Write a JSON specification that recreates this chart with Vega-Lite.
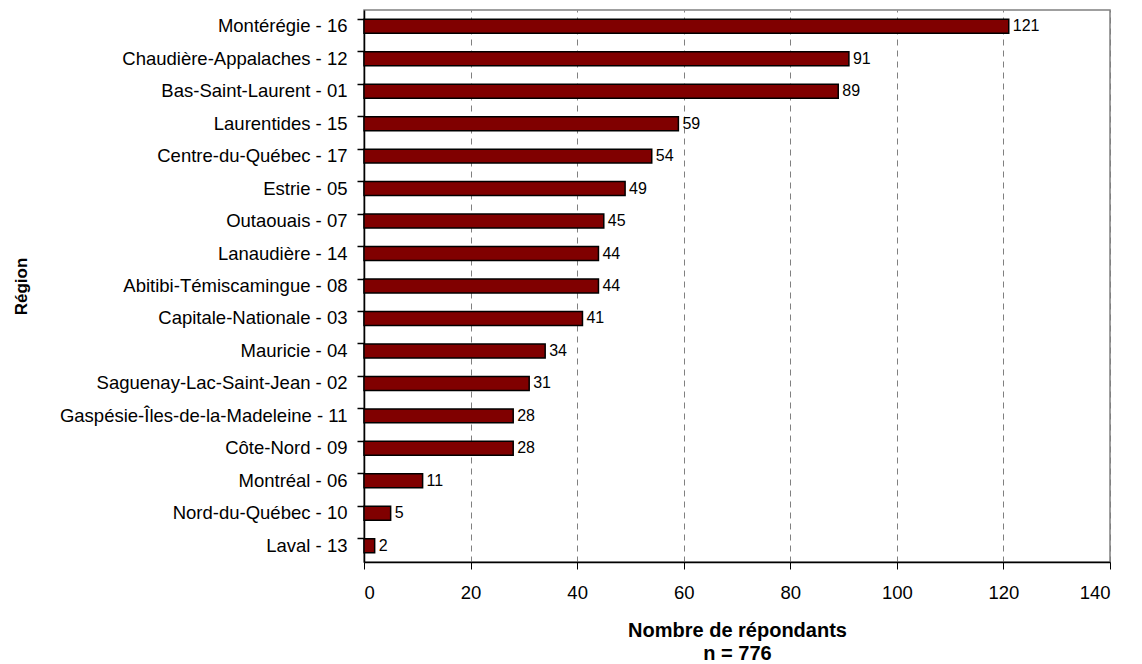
{
  "$schema": "https://vega.github.io/schema/vega-lite/v6.json",
  "autosize": {"type": "none"},
  "width": 746,
  "height": 552,
  "padding": {"left": 364, "top": 10, "right": 32, "bottom": 102},
  "background": "white",
  "config": {
    "font": "Liberation Sans",
    "view": {"stroke": "#808080", "strokeWidth": 1.5}
  },
  "data": {
    "values": [
      {"region": "Montérégie - 16", "n": 121},
      {"region": "Chaudière-Appalaches - 12", "n": 91},
      {"region": "Bas-Saint-Laurent - 01", "n": 89},
      {"region": "Laurentides - 15", "n": 59},
      {"region": "Centre-du-Québec - 17", "n": 54},
      {"region": "Estrie - 05", "n": 49},
      {"region": "Outaouais - 07", "n": 45},
      {"region": "Lanaudière - 14", "n": 44},
      {"region": "Abitibi-Témiscamingue - 08", "n": 44},
      {"region": "Capitale-Nationale - 03", "n": 41},
      {"region": "Mauricie - 04", "n": 34},
      {"region": "Saguenay-Lac-Saint-Jean - 02", "n": 31},
      {"region": "Gaspésie-Îles-de-la-Madeleine - 11", "n": 28},
      {"region": "Côte-Nord - 09", "n": 28},
      {"region": "Montréal - 06", "n": 11},
      {"region": "Nord-du-Québec - 10", "n": 5},
      {"region": "Laval - 13", "n": 2}
    ]
  },
  "encoding": {
    "y": {
      "field": "region",
      "type": "nominal",
      "sort": null,
      "scale": {"paddingInner": 0.57, "paddingOuter": 0.285},
      "axis": {
        "title": "Région",
        "titleFontSize": 17,
        "titleFontWeight": "bold",
        "titleColor": "black",
        "titlePadding": 134,
        "labelFontSize": 18.5,
        "labelLimit": 500,
        "labelColor": "black",
        "labelPadding": 10,
        "domainColor": "black",
        "domainWidth": 1.5,
        "tickColor": "black",
        "tickSize": 7,
        "tickWidth": 1.5,
        "bandPosition": 0,
        "ticks": true
      }
    },
    "x": {
      "field": "n",
      "type": "quantitative",
      "scale": {"domain": [0, 140], "nice": false},
      "axis": {
        "values": [0, 20, 40, 60, 80, 100, 120, 140],
        "title": ["Nombre de répondants", "n = 776"],
        "titleFontSize": 20,
        "titleFontWeight": "bold",
        "titleColor": "black",
        "titlePadding": 19,
        "titleLineHeight": 23,
        "labelFontSize": 18.5,
        "labelColor": "black",
        "labelPadding": 14,
        "domainColor": "black",
        "domainWidth": 1.5,
        "tickColor": "black",
        "tickSize": 7,
        "tickWidth": 1,
        "grid": true,
        "gridColor": "#808080",
        "gridDash": [6, 5],
        "gridWidth": 1
      }
    }
  },
  "layer": [
    {
      "mark": {"type": "bar", "color": "#800000", "stroke": "black", "strokeWidth": 1.5}
    },
    {
      "mark": {"type": "text", "align": "left", "dx": 4, "fontSize": 16, "color": "black"},
      "encoding": {"text": {"field": "n", "type": "quantitative"}}
    }
  ]
}
